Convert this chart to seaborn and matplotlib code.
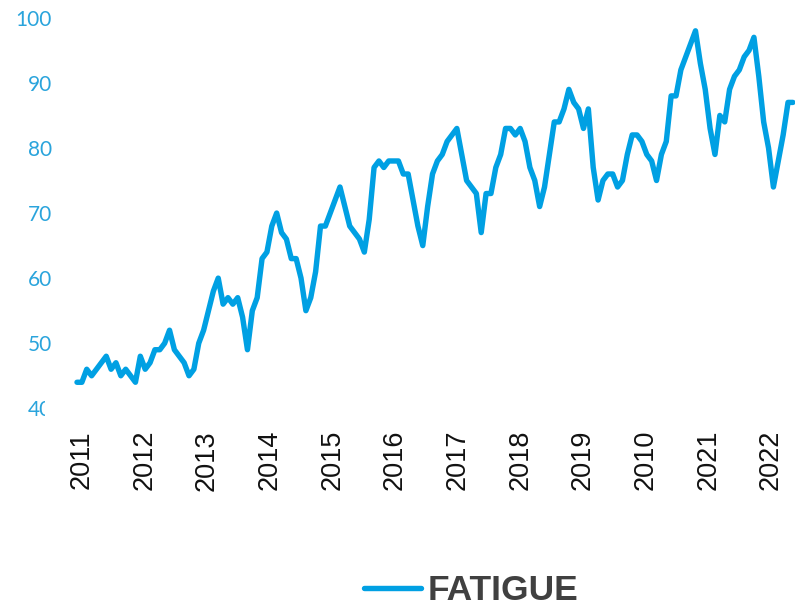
import numpy as np
import pandas as pd
import matplotlib
matplotlib.use("Agg")
import matplotlib.pyplot as plt
import seaborn as sns
from matplotlib.transforms import Bbox

# Fatigue index, one value per period (13 periods per year)
fatigue = [
    44, 44, 46, 45, 46, 47, 48, 46, 47, 45, 46, 45, 44,
    48, 46, 47, 49, 49, 50, 52, 49, 48, 47, 45, 46, 50,
    52, 55, 58, 60, 56, 57, 56, 57, 54, 49, 55, 57, 63,
    64, 68, 70, 67, 66, 63, 63, 60, 55, 57, 61, 68, 68,
    70, 72, 74, 71, 68, 67, 66, 64, 69, 77, 78, 77, 78,
    78, 78, 76, 76, 72, 68, 65, 71, 76, 78, 79, 81, 82,
    83, 79, 75, 74, 73, 67, 73, 73, 77, 79, 83, 83, 82,
    83, 81, 77, 75, 71, 74, 79, 84, 84, 86, 89, 87, 86,
    83, 86, 77, 72, 75, 76, 76, 74, 75, 79, 82, 82, 81,
    79, 78, 75, 79, 81, 88, 88, 92, 94, 96, 98, 93, 89,
    83, 79, 85, 84, 89, 91, 92, 94, 95, 97, 91, 84, 80,
    74, 78, 82, 87, 87,
]
year_labels = ["2011", "2012", "2013", "2014", "2015", "2016",
               "2017", "2018", "2019", "2010", "2021", "2022"]
y_ticks = [40, 50, 60, 70, 80, 90, 100]
series_name = "FATIGUE"

LINE_BLUE = "#00A0E3"
TICK_BLUE = "#2AA4DC"
LINE_W = 3.9

df = pd.DataFrame({
    "period": np.arange(len(fatigue)),
    "value": fatigue,
    "series": series_name,
})

sns.set_theme(style="white")

W, H = 795, 606
fig = plt.figure(figsize=(W / 100, H / 100), dpi=100)
left, right, top, bottom = 77, 795, 17.8, 408.3
ax = fig.add_axes([left / W, (H - bottom) / H, (right - left) / W, (bottom - top) / H])

sns.lineplot(data=df, x="period", y="value", hue="series",
             palette=[LINE_BLUE], linewidth=LINE_W, ax=ax)
line = ax.lines[0]
line.set_solid_capstyle("round")
line.set_solid_joinstyle("round")
line.set_clip_on(False)

step_px = 4.87
ax.set_xlim(0, (right - left) / step_px)
ax.set_ylim(40, 100)

for s in ax.spines.values():
    s.set_visible(False)
ax.grid(False)

ax.set_xticks(np.linspace(0.97, 142.5, len(year_labels)))
ax.set_xticklabels(year_labels, rotation=90, fontsize=19.5,
                   fontfamily="Liberation Sans", color="#111111")
ax.set_yticks(y_ticks)
ax.set_yticklabels([str(v) for v in y_ticks], fontsize=15,
                   fontfamily="Lato", color=TICK_BLUE)
ax.tick_params(axis="x", length=0, pad=15.6)
ax.tick_params(axis="y", length=0, pad=18)
ax.set_xlabel("")
ax.set_ylabel("")

# the lowest value label is partly hidden at the plot's left edge
low_label = ax.get_yticklabels()[0]
low_label.set_clip_on(True)
low_label.set_clip_box(Bbox.from_extents(0, 0, 45, H))

handles, labels = ax.get_legend_handles_labels()
ax.legend(handles=handles, labels=labels, loc="center",
          bbox_to_anchor=(471 / W, (H - 591) / H), bbox_transform=fig.transFigure,
          frameon=False, handlelength=1.6, handletextpad=0.18,
          prop={"family": "Liberation Sans", "weight": "bold", "size": 25.5},
          labelcolor="#404040")
leg = ax.get_legend()
for h in leg.legend_handles:
    h.set_linewidth(LINE_W)
    h.set_solid_capstyle("round")

fig.savefig("out.png", dpi=100)
